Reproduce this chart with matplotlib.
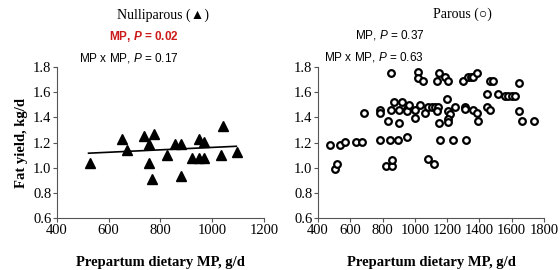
import matplotlib
matplotlib.use('Agg')
import matplotlib.pyplot as plt

plt.rcParams['mathtext.fontset'] = 'custom'
plt.rcParams['mathtext.it'] = 'Liberation Sans:italic'
plt.rcParams['mathtext.bfit'] = 'Liberation Sans:italic:bold'

# nulliparous cows (triangles)
nulli_mp = [527, 651, 671, 735, 776, 755, 755, 766, 826, 857, 879, 879,
            920, 949, 949, 970, 970, 1033, 1042, 1095]
nulli_fat = [1.04, 1.225, 1.143, 1.25, 1.27, 1.185, 1.036, 0.907, 1.103, 1.185, 1.185, 0.931,
             1.079, 1.225, 1.079, 1.206, 1.079, 1.103, 1.333, 1.124]
# fitted line (nulliparous)
fit_mp = [522, 1093]
fit_fat = [1.115, 1.170]

# parous cows (circles)
parous_mp = [852, 1018, 1018, 1052, 1135, 1151, 1187, 1203, 1300, 1331, 1348, 1362,
             1383, 1466, 1486, 1647, 1445, 1513, 1558, 1579, 1600, 1620,
             687, 786, 786, 852, 869, 902, 919, 950, 950, 966, 1001, 1032,
             1063, 1083, 1104, 1125, 1142, 1135, 1197, 1203, 1218, 1249,
             1203, 1203, 1151, 1311, 1311, 1362, 1383, 1393, 1445, 1466,
             1647, 1662, 1740, 836, 902, 1001,
             474, 536, 567, 635, 671, 784, 846, 897, 953, 1156, 1238, 1315,
             505, 520, 821, 857, 857, 1083, 1120]
parous_fat = [1.752, 1.757, 1.715, 1.691, 1.691, 1.752, 1.718, 1.691, 1.691, 1.718, 1.718, 1.718,
              1.752, 1.691, 1.691, 1.670, 1.585, 1.585, 1.567, 1.567, 1.567, 1.567,
              1.434, 1.459, 1.435, 1.458, 1.519, 1.458, 1.519, 1.466, 1.448, 1.498, 1.458, 1.498,
              1.434, 1.479, 1.479, 1.479, 1.479, 1.453, 1.545, 1.453, 1.426, 1.485,
              1.387, 1.366, 1.353, 1.485, 1.466, 1.458, 1.434, 1.374, 1.485, 1.458,
              1.453, 1.374, 1.374, 1.374, 1.352, 1.394,
              1.177, 1.177, 1.203, 1.203, 1.203, 1.222, 1.222, 1.222, 1.243, 1.222, 1.222, 1.222,
              0.992, 1.032, 1.013, 1.013, 1.058, 1.071, 1.032]

yticks = [0.6, 0.8, 1.0, 1.2, 1.4, 1.6, 1.8]

W, H = 560, 270
fig = plt.figure(figsize=(5.6, 2.7), dpi=100)

serif = ['Liberation Serif', 'DejaVu Serif']
sans = ['Liberation Sans', 'DejaVu Sans']

def px(x, y):
    return x / W, 1 - y / H

ax1 = fig.add_axes([57 / W, 1 - 218 / H, 207 / W, 151 / H])
ax2 = fig.add_axes([318 / W, 1 - 218 / H, 226 / W, 151 / H])

ax1.plot(nulli_mp, nulli_fat, '^', color='black', markersize=6.5, clip_on=False)
ax1.plot(fit_mp, fit_fat, '-', color='black', linewidth=1.2)
ax1.set_xlim(400, 1200)
ax1.set_xticks([400, 600, 800, 1000, 1200])

ax2.plot(parous_mp, parous_fat, 'o', markerfacecolor='white', markeredgecolor='black',
         markersize=4.8, markeredgewidth=1.6, clip_on=False)
ax2.set_xlim(400, 1800)
ax2.set_xticks(range(400, 1801, 200))

for ax in (ax1, ax2):
    ax.set_ylim(0.6, 1.8)
    ax.set_yticks(yticks)
    ax.set_yticklabels(['%.1f' % v for v in yticks])
    ax.spines['top'].set_visible(False)
    ax.spines['right'].set_visible(False)
    ax.spines['left'].set_color('#555555')
    ax.spines['bottom'].set_color('#555555')
    ax.tick_params(direction='out', length=3, width=0.8, colors='#555555',
                   labelcolor='black', labelsize=10.5, pad=1)
    for lab in ax.get_xticklabels() + ax.get_yticklabels():
        lab.set_family(serif)
    ax.set_xlabel('Prepartum dietary MP, g/d', family=serif, fontweight='bold',
                  fontsize=10.5, labelpad=14)

ax1.set_ylabel('Fat yield, kg/d', family=serif, fontweight='bold', fontsize=10.5, labelpad=4)

# titles and P values
fig.text(*px(163, 15), 'Nulliparous (\u25B2)', family=['Liberation Serif', 'DejaVu Sans'],
         fontsize=10, ha='center', va='center')
fig.text(*px(144, 37), 'MP, $\\boldsymbol{P}$ = 0.02', family=sans, fontsize=8.5,
         fontweight='bold', color='#cc1a1a', ha='center', va='center')
fig.text(*px(129, 58), 'MP x MP, $P$ = 0.17', family=sans, fontsize=8.5,
         ha='center', va='center')

fig.text(*px(462, 14), 'Parous (\u25CB)', family=['Liberation Serif', 'DejaVu Sans'],
         fontsize=10, ha='center', va='center')
fig.text(*px(390, 35), 'MP, $P$ = 0.37', family=sans, fontsize=8.5,
         ha='center', va='center')
fig.text(*px(374, 57), 'MP x MP, $P$ = 0.63', family=sans, fontsize=8.5,
         ha='center', va='center')

fig.savefig('out.png', dpi=100)
